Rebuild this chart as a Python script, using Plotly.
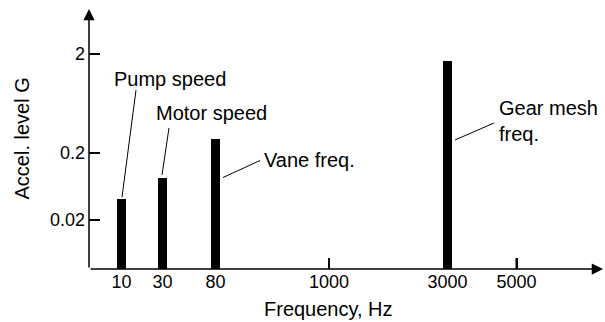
import numpy as np
import plotly.graph_objects as go

# ---- data ----
freq_ticks = [10, 30, 80, 1000, 3000, 5000]
freq_tick_labels = ["10", "30", "80", "1000", "3000", "5000"]
level_ticks = [0.02, 0.2, 2]
level_tick_labels = ["0.02", "0.2", "2"]

peak_freqs = [10, 30, 80, 3000]
peak_levels = [0.041, 0.085, 0.28, 1.7]
peak_names = ["Pump speed", "Motor speed", "Vane freq.", "Gear mesh<br>freq."]

x_title = "Frequency, Hz"
y_title = "Accel. level G"

# ---- schematic (non-uniform) axis scales of the original drawing ----
x_tick_pos = [32.5, 73.5, 126.5, 240, 358.5, 427.5]
y_tick_pos = [49, 116, 215]
X_MAX, Y_MAX = 514, 260
TICK_LEN = 11


def xmap(f):
    return np.interp(f, freq_ticks, x_tick_pos)


def ymap(v):
    return np.interp(np.log10(v), np.log10(level_ticks), y_tick_pos)


bx = xmap(np.array(peak_freqs, dtype=float))
by = ymap(np.array(peak_levels, dtype=float))

FONT = "Liberation Sans, Arial, Helvetica, sans-serif"
ANN_SIZE = 20
TICK_SIZE = 18

fig = go.Figure()
fig.add_trace(go.Bar(x=bx, y=by, width=9, marker=dict(color="black", line=dict(width=0)),
                     hoverinfo="skip", showlegend=False))

# label placement (offsets relative to each bar: text anchor, leader start, leader end)
label_layout = [
    dict(text=(-9.5, 120), start=(14.5, 109), end=(0.5, 2)),
    dict(text=(-8.5, 64.5), start=(6.5, 50), end=(-0.5, 3)),
    dict(text=(46.5, -21.5), start=(44.5, -22), end=(7.5, -39)),
    dict(text=(49.5, -60.5), start=(46.5, -62), end=(7.5, -79)),
]

annotations = []
shapes = []
for name, x0, y0, lay in zip(peak_names, bx, by, label_layout):
    tx, ty = lay["text"]
    annotations.append(dict(x=x0 + tx, y=y0 + ty, xref="x", yref="y", text=name,
                            showarrow=False, xanchor="left", yanchor="middle", align="left",
                            font=dict(family=FONT, size=ANN_SIZE, color="black")))
    sx, sy = lay["start"]
    ex, ey = lay["end"]
    shapes.append(dict(type="line", xref="x", yref="y", x0=x0 + sx, y0=y0 + sy,
                       x1=x0 + ex, y1=y0 + ey, line=dict(color="black", width=1)))

# inside tick marks
for p in x_tick_pos:
    shapes.append(dict(type="line", xref="x", yref="y", x0=p, x1=p, y0=0, y1=TICK_LEN,
                       line=dict(color="black", width=2), layer="above"))
for p in y_tick_pos:
    shapes.append(dict(type="line", xref="x", yref="y", x0=0, x1=TICK_LEN, y0=p, y1=p,
                       line=dict(color="black", width=2), layer="above"))

# axis lines with arrow heads
for (hx, hy) in [(0, Y_MAX), (X_MAX, 0)]:
    annotations.append(dict(x=hx, y=hy, ax=0, ay=0, xref="x", yref="y", axref="x", ayref="y",
                            text="", showarrow=True, arrowhead=2, arrowsize=1.5,
                            arrowwidth=1.5, arrowcolor="black", standoff=0))

# axis titles
annotations.append(dict(x=(328.5 - 89) / X_MAX, y=-(309 - 269) / Y_MAX, xref="paper", yref="paper",
                        text=x_title, showarrow=False, xanchor="center", yanchor="middle",
                        font=dict(family=FONT, size=ANN_SIZE, color="black")))
annotations.append(dict(x=-(89 - 21.5) / X_MAX, y=0.5, xref="paper", yref="paper",
                        text=y_title, showarrow=False, textangle=-90, xanchor="center",
                        yanchor="middle", font=dict(family=FONT, size=ANN_SIZE, color="black")))

fig.update_layout(
    width=605, height=322,
    margin=dict(l=89, r=2, t=9, b=53),
    paper_bgcolor="white", plot_bgcolor="white",
    font=dict(family=FONT, size=TICK_SIZE, color="black"),
    annotations=annotations, shapes=shapes,
    bargap=0,
)
fig.update_xaxes(range=[0, X_MAX], tickvals=x_tick_pos, ticktext=freq_tick_labels,
                 ticks="inside", ticklen=TICK_LEN, tickwidth=2, tickcolor="black",
                 showgrid=False, zeroline=False, showline=False,
                 tickfont=dict(family=FONT, size=TICK_SIZE, color="black"), fixedrange=True)
fig.update_yaxes(range=[0, Y_MAX], tickvals=y_tick_pos, ticktext=level_tick_labels,
                 ticks="inside", ticklen=TICK_LEN, tickwidth=2, tickcolor="black",
                 ticklabelstandoff=3,
                 showgrid=False, zeroline=False, showline=False,
                 tickfont=dict(family=FONT, size=TICK_SIZE, color="black"), fixedrange=True)

fig.write_html("out.html", config={"displayModeBar": False},
               post_script="document.body.style.margin='0';document.body.style.overflow='hidden';")
